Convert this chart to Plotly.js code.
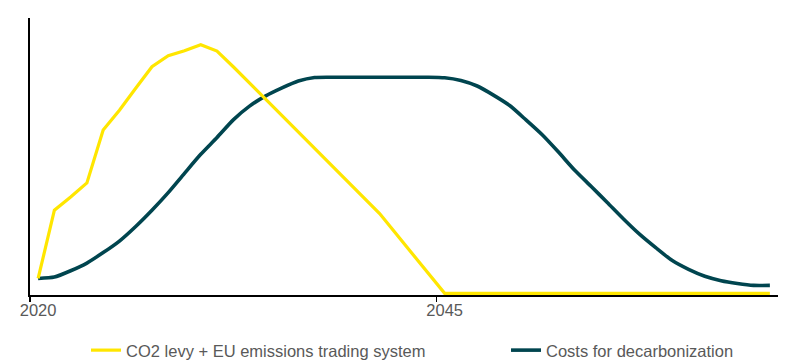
<!DOCTYPE html>
<html>
<head>
<meta charset="utf-8">
<script src="https://cdn.plot.ly/plotly-3.0.1.min.js"></script>
<style>html,body{margin:0;padding:0;background:#fff;}#chart{width:800px;height:363px;}</style>
</head>
<body>
<div id="chart"></div>
<script>
var years = [2020,2021,2022,2023,2024,2025,2026,2027,2028,2029,
             2030,2031,2032,2033,2034,2035,2036,2037,2038,2039,
             2040,2041,2042,2043,2044,2045,2046,2047,2048,2049,
             2050,2051,2052,2053,2054,2055,2056,2057,2058,2059,
             2060,2061,2062,2063,2064,2065];

var co2Levy = [5.4,30.2,35.0,40.1,59.3,66.5,74.5,82.3,86.3,88.1,
               90.3,88.0,82.3,76.4,70.5,64.6,58.6,52.7,46.7,40.8,
               34.9,29.0,21.7,14.5,7.2,0,0,0,0,0,
               0,0,0,0,0,0,0,0,0,0,
               0,0,0,0,0,0];

var decarbCosts = [5.4,5.9,8.2,11.0,14.8,19.0,24.3,30.2,36.6,43.6,
                   50.5,56.6,63.0,68.0,71.7,74.6,77.1,78.4,78.5,78.5,
                   78.5,78.5,78.5,78.5,78.5,78.3,77.3,75.3,72.0,68.2,
                   63.0,57.6,51.3,44.7,38.9,33.0,27.0,21.4,16.5,11.9,
                   8.7,6.2,4.6,3.6,2.9,2.9];

var seriesNames = ["CO2 levy + EU emissions trading system", "Costs for decarbonization"];
var tickYears = [2020, 2045];
var tickLabels = ["2020", "2045"];
var tickBoundaries = [2019.5, 2044.5];

var traces = [
  {
    x: years, y: decarbCosts, name: seriesNames[1], type: "scatter", mode: "lines",
    line: {color: "#00454F", width: 3.6, shape: "spline", smoothing: 0.6},
    legend: "legend2", hoverinfo: "x+y"
  },
  {
    x: years, y: co2Levy, name: seriesNames[0], type: "scatter", mode: "lines",
    line: {color: "#FFE600", width: 3.2},
    legend: "legend", hoverinfo: "x+y"
  }
];

var legendCommon = {
  orientation: "h", xanchor: "left", y: -0.2, yanchor: "middle",
  font: {size: 16.5, color: "#595959"}, bgcolor: "rgba(0,0,0,0)"
};

var layout = {
  width: 800, height: 363,
  margin: {l: 30, r: 22, t: 18, b: 68.35, pad: 0, autoexpand: false},
  paper_bgcolor: "#ffffff", plot_bgcolor: "#ffffff",
  font: {family: "Liberation Sans, Arial, sans-serif", size: 16, color: "#595959"},
  showlegend: true,
  legend: Object.assign({x: 0.0749}, legendCommon),
  legend2: Object.assign({x: 0.6364}, legendCommon),
  xaxis: {
    range: [2019.5, 2065.5], showgrid: false, zeroline: false,
    showline: true, linecolor: "#000000", linewidth: 1.5, layer: "below traces",
    tickmode: "array", tickvals: tickYears, ticktext: tickLabels,
    ticks: "", tickfont: {size: 16.5, color: "#595959"},
    minor: {tickmode: "array", tickvals: tickBoundaries, ticks: "outside", ticklen: 5, tickwidth: 1.5, tickcolor: "#000000", showgrid: false}
  },
  yaxis: {
    range: [-0.6, 100], showgrid: false, zeroline: false,
    showline: true, linecolor: "#000000", linewidth: 2, layer: "below traces",
    showticklabels: false, ticks: ""
  }
};

Plotly.newPlot("chart", traces, layout, {displayModeBar: false, staticPlot: true});
</script>
</body>
</html>
